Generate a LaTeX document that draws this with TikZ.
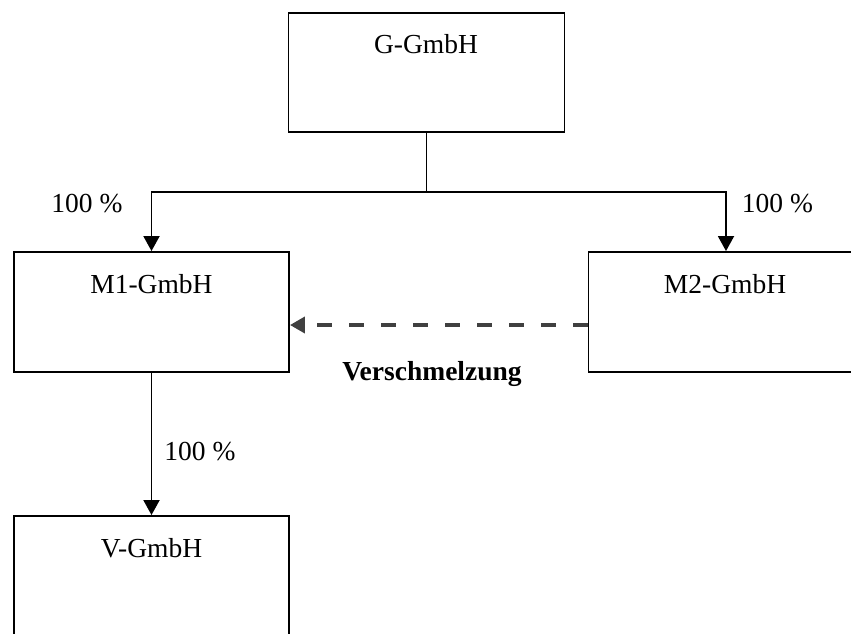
\documentclass[tikz,border=0pt]{standalone}
\usepackage{fontspec}
\setmainfont{Liberation Serif}
\usetikzlibrary{arrows.meta,calc}
\definecolor{dashgray}{HTML}{404040}
\tikzset{
  box/.style={draw=black, line width=1.9pt, inner sep=0pt, minimum width=275pt, minimum height=120pt},
  lbl/.style={anchor=base, inner sep=0pt, font=\fontsize{27.5}{32}\selectfont},
  conn/.style={draw=black, line width=1.9pt},
  tipconn/.style={conn, -{Triangle[length=15pt,width=16pt]}},
  merge/.style={draw=dashgray, line width=4pt, dash pattern=on 15pt off 17pt, -{Triangle[length=15pt,width=16pt]}}
}
\begin{document}
\begin{tikzpicture}[x=1pt,y=-1pt]
\useasboundingbox (0,0) rectangle (851,633);
\clip (0,0) rectangle (851,633);
\node[box, minimum width=276pt, minimum height=119pt] (g) at (426.5,72.5) {};
\node[box] (m1) at (151.5,312) {};
\node[box] (m2) at (726,312) {};
\node[box] (v) at (151.5,576) {};
\node[lbl] (gt) at (426,53) {G-GmbH};
\node[lbl] (m1t) at (151.5,293) {M1-GmbH};
\node[lbl] (m2t) at (725,293) {M2-GmbH};
\node[lbl] (vt) at (151.5,557) {V-GmbH};
\node[lbl] (p1) at (87,212) {100 \%};
\node[lbl] (p2) at (777.5,212) {100 \%};
\node[lbl] (p3) at (200,460) {100 \%};
\node[lbl, font=\fontsize{27.5}{32}\selectfont\bfseries] (vs) at (432,380) {Verschmelzung};
\coordinate (j) at (426.5,192);
\draw[conn] (g.south) -- (j);
\draw[tipconn] (j) -| (m1.north);
\draw[tipconn] (j) -| (m2.north);
\draw[tipconn] (m1.south) -- (v.north);
\draw[merge] ($(m2.west)+(0,13)$) -- ($(m1.east)+(0,13)$);
\end{tikzpicture}
\end{document}
